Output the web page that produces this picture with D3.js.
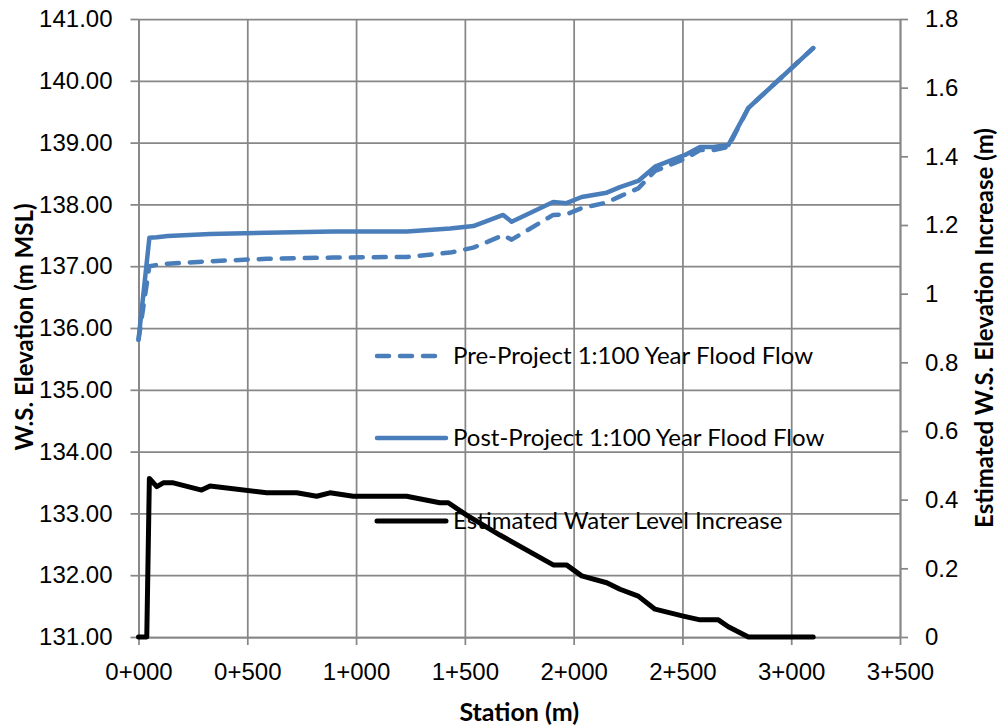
<!DOCTYPE html>
<html>
<head>
<meta charset="utf-8">
<script src="https://cdn.jsdelivr.net/npm/d3@7"></script>
<style>
  body { margin: 0; background: #fff; }
  svg { font-family: Lato, "Open Sans", sans-serif; }
</style>
</head>
<body>
<div id="chart"></div>
<script>
// stations (m) for the two flood flow profiles
const flowStations = [0, 50, 84, 135, 329, 589, 894, 1234, 1432, 1539, 1676, 1715, 1906, 1967,
  2037, 2152, 2213, 2297, 2374, 2512, 2581, 2642, 2711, 2803, 3101];
const preProject = [135.81, 137.00, 137.02, 137.04, 137.08, 137.12, 137.14, 137.15, 137.22, 137.30,
  137.50, 137.43, 137.83, 137.84, 137.94, 138.03, 138.13, 138.26, 138.54, 138.74, 138.88, 138.88,
  138.93, 139.56, 140.53];
const postProject = [135.81, 137.46, 137.47, 137.49, 137.52, 137.54, 137.56, 137.56, 137.61, 137.65,
  137.83, 137.72, 138.04, 138.02, 138.12, 138.19, 138.28, 138.38, 138.61, 138.80, 138.93, 138.93,
  138.96, 139.56, 140.53];

// stations (m) and values for the water level increase (right axis)
const incStations = [0, 38, 50, 84, 114, 160, 290, 329, 589, 727, 819, 880, 987, 1232, 1385, 1424,
  1508, 1661, 1906, 1967, 2037, 2152, 2213, 2297, 2374, 2504, 2581, 2665, 2711, 2803, 3101];
const increase = [0, 0, 0.462, 0.438, 0.449, 0.449, 0.428, 0.44, 0.42, 0.42, 0.41, 0.42, 0.41, 0.41,
  0.391, 0.391, 0.355, 0.297, 0.21, 0.21, 0.178, 0.158, 0.139, 0.119, 0.081, 0.061, 0.05, 0.05,
  0.03, 0, 0];

const xTicks = [0, 500, 1000, 1500, 2000, 2500, 3000, 3500];
const yTicks = [131, 132, 133, 134, 135, 136, 137, 138, 139, 140, 141];
const y2Ticks = [0, 0.2, 0.4, 0.6, 0.8, 1, 1.2, 1.4, 1.6, 1.8];

const legendLabels = ['Pre-Project 1:100 Year Flood Flow', 'Post-Project 1:100 Year Flood Flow',
  'Estimated Water Level Increase'];

const width = 997, height = 728;
const margin = { top: 19, right: 97, bottom: 91, left: 138.5 };
const w = width - margin.left - margin.right;
const h = height - margin.top - margin.bottom;

const blue = '#4a7ebb';
const gridColor = '#878787';

const svg = d3.select('#chart').append('svg')
  .attr('width', width)
  .attr('height', height);

const g = svg.append('g')
  .attr('transform', `translate(${margin.left},${margin.top})`);

const x = d3.scaleLinear().domain([0, 3500]).range([0, w]);
const y = d3.scaleLinear().domain([131, 141]).range([h, 0]);
const y2 = d3.scaleLinear().domain([0, 1.8]).range([h, 0]);

const stationFmt = d => Math.floor(d / 1000) + '+' + String(d % 1000).padStart(3, '0');

// grid
g.append('g')
  .attr('class', 'grid')
  .call(d3.axisLeft(y).tickValues(yTicks).tickSize(-w).tickFormat(''));
g.append('g')
  .attr('class', 'grid')
  .attr('transform', `translate(0,${h})`)
  .call(d3.axisBottom(x).tickValues(xTicks).tickSize(h).tickFormat(''))
  .selectAll('line').attr('y2', -h);

// axes
g.append('g')
  .attr('class', 'axis')
  .call(d3.axisLeft(y).tickValues(yTicks).tickSize(8).tickSizeOuter(0).tickPadding(18)
    .tickFormat(d3.format('.2f')));

g.append('g')
  .attr('class', 'axis')
  .attr('transform', `translate(0,${h})`)
  .call(d3.axisBottom(x).tickValues(xTicks).tickSize(8).tickSizeOuter(0).tickPadding(18)
    .tickFormat(stationFmt));

g.append('g')
  .attr('class', 'axis')
  .attr('transform', `translate(${w},0)`)
  .call(d3.axisRight(y2).tickValues(y2Ticks).tickSize(8).tickSizeOuter(0).tickPadding(17)
    .tickFormat(d => String(+d.toFixed(1))));

svg.selectAll('.grid line, .axis line, .axis path')
  .attr('stroke', gridColor)
  .attr('stroke-width', 1.75);
svg.selectAll('.grid path').remove();
svg.selectAll('.axis text')
  .attr('font-size', 24)
  .attr('fill', '#000');

// lines
const flowLine = vals => d3.line()
  .x((d, i) => x(flowStations[i]))
  .y(d => y(d))(vals);

g.append('path')
  .attr('d', flowLine(preProject))
  .attr('fill', 'none')
  .attr('stroke', blue)
  .attr('stroke-width', 4.5)
  .attr('stroke-linecap', 'round')
  .attr('stroke-linejoin', 'round')
  .attr('stroke-dasharray', '12,11');

g.append('path')
  .attr('d', flowLine(postProject))
  .attr('fill', 'none')
  .attr('stroke', blue)
  .attr('stroke-width', 4.5)
  .attr('stroke-linecap', 'round')
  .attr('stroke-linejoin', 'round');

g.append('path')
  .attr('d', d3.line()
    .x((d, i) => x(incStations[i]))
    .y(d => y2(d))(increase))
  .attr('fill', 'none')
  .attr('stroke', '#000')
  .attr('stroke-width', 5)
  .attr('stroke-linecap', 'round')
  .attr('stroke-linejoin', 'round');

// legend
const legendRows = [
  { label: legendLabels[0], color: blue, dash: '12,11', y: 356 },
  { label: legendLabels[1], color: blue, dash: null, y: 438 },
  { label: legendLabels[2], color: '#000', dash: null, y: 521 }
];
const legend = svg.append('g');
legendRows.forEach(r => {
  legend.append('line')
    .attr('x1', 377).attr('x2', 446)
    .attr('y1', r.y).attr('y2', r.y)
    .attr('stroke', r.color)
    .attr('stroke-width', r.color === '#000' ? 5 : 4.5)
    .attr('stroke-linecap', 'round')
    .attr('stroke-dasharray', r.dash);
  legend.append('text')
    .attr('x', 453)
    .attr('y', r.y)
    .attr('dy', '0.35em')
    .attr('font-size', 24)
    .text(r.label);
});

// axis titles
svg.append('text')
  .attr('x', margin.left + x(1750))
  .attr('y', 712)
  .attr('dy', '0.35em')
  .attr('text-anchor', 'middle')
  .attr('font-size', 25)
  .attr('font-weight', 'bold')
  .text('Station (m)');

svg.append('text')
  .attr('transform', 'translate(25,327) rotate(-90)')
  .attr('dy', '0.35em')
  .attr('text-anchor', 'middle')
  .attr('font-size', 24)
  .attr('font-weight', 'bold')
  .text('W.S. Elevation (m MSL)');

svg.append('text')
  .attr('transform', 'translate(985,328) rotate(-90)')
  .attr('dy', '0.35em')
  .attr('text-anchor', 'middle')
  .attr('font-size', 24)
  .attr('font-weight', 'bold')
  .text('Estimated W.S. Elevation Increase (m)');
</script>
</body>
</html>
